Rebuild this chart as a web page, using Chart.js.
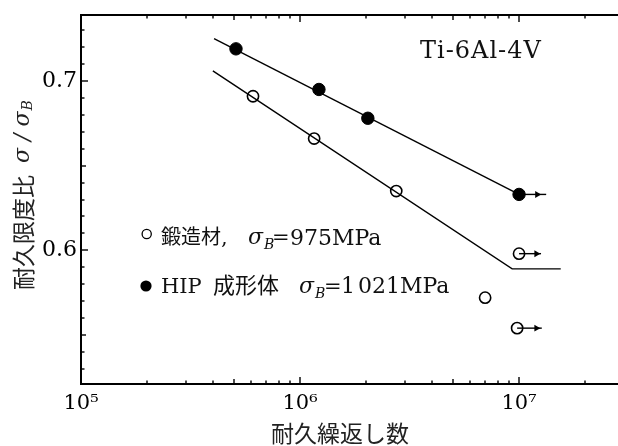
<!DOCTYPE html>
<html>
<head>
<meta charset="utf-8">
<script src="https://cdn.jsdelivr.net/npm/chart.js@4.4.0/dist/chart.umd.min.js"></script>
<style>
  html, body { margin: 0; padding: 0; background: #fff; overflow: hidden; }
  #wrap { width: 618px; height: 446px; position: relative; }
</style>
</head>
<body>
<div id="wrap"><canvas id="fatigue"></canvas></div>
<script>
// forged material (open circles)
const forgedN     = [6.1e5, 1.16e6, 2.75e6, 7.0e6, 1.0e7, 9.8e6];
const forgedRatio = [0.691, 0.666, 0.635, 0.572, 0.598, 0.554];
// HIP compact (filled circles)
const hipN     = [5.1e5, 1.22e6, 2.04e6, 1.0e7];
const hipRatio = [0.719, 0.695, 0.678, 0.633];
// fitted S-N lines
const forgedFitN     = [4.0e5, 9.3e6, 1.55e7];
const forgedFitRatio = [0.706, 0.589, 0.589];
const hipFitN     = [4.05e5, 1.0e7];
const hipFitRatio = [0.725, 0.633];
// run-outs (arrows)
const runoutN      = [1.0e7, 1.0e7, 9.8e6];
const runoutRatio  = [0.633, 0.598, 0.554];
const runoutHeadN  = [1.21e7, 1.2e7, 1.2e7];
const runoutEndN   = [1.33e7, 1.26e7, 1.27e7];
// axes
const yLabelValues = [0.6, 0.7];
const xLabelExps   = [5, 6, 7];
const xMantissas   = [1, 2, 3, 4, 5, 6, 7, 8, 9];

const SERIF = '"DejaVu Serif"';
const CJK = '"Noto Sans CJK JP"';
const sup = { 5: '\u2075', 6: '\u2076', 7: '\u2077' };

const pts = (xs, ys) => xs.map((v, i) => ({ x: v, y: ys[i] }));

const runoutSets = runoutN.map((n, i) => ({
  data: [
    { x: n, y: runoutRatio[i] },
    { x: runoutHeadN[i], y: runoutRatio[i] },
    { x: runoutEndN[i], y: runoutRatio[i] }
  ],
  showLine: true,
  borderColor: '#000',
  borderWidth: 1.4,
  pointStyle: 'triangle',
  rotation: 90,
  pointRadius: [0, 4, 0],
  backgroundColor: '#000',
  pointBorderWidth: 0
}));

function put(ctx, text, x, y, font) {
  ctx.font = font;
  ctx.fillText(text, x, y);
  return x + ctx.measureText(text).width;
}

const frame = {
  id: 'frame',
  beforeDatasetsDraw(chart) {
    const { ctx, chartArea: a, scales: { x, y } } = chart;
    ctx.save();
    ctx.fillStyle = '#000';
    // frame: top, left, bottom (open on the right)
    ctx.fillRect(a.left - 1, a.top - 1, a.right - a.left + 1, 2);
    ctx.fillRect(a.left - 1, a.top - 1, 2, a.bottom - a.top + 2);
    ctx.fillRect(a.left - 1, a.bottom - 1, a.right - a.left + 1, 2);
    // inward ticks
    xLabelExps.forEach(e => {
      xMantissas.forEach(m => {
        const v = m * Math.pow(10, e);
        if (v > x.max) return;
        const px = Math.round(x.getPixelForValue(v));
        const len = m === 1 ? 7 : (m === 5 ? 5 : 3.5);
        ctx.fillRect(px - 0.7, a.bottom - len, 1.4, len);
        ctx.fillRect(px - 0.7, a.top, 1.4, len);
      });
    });
    y.ticks.forEach(t => {
      const py = Math.round(y.getPixelForValue(t.value));
      const k = Math.round(t.value * 100);
      const len = k % 10 === 0 ? 7 : (k % 5 === 0 ? 5 : 3.5);
      ctx.fillRect(a.left, py - 0.7, len, 1.4);
    });
    ctx.restore();
  },
  afterDatasetsDraw(chart) {
    const { ctx } = chart;
    ctx.save();
    ctx.fillStyle = '#111';
    ctx.textBaseline = 'alphabetic';
    ctx.textAlign = 'left';

    // material label
    ctx.letterSpacing = '1px';
    put(ctx, 'Ti-6Al-4V', 420, 58, '24px ' + SERIF);
    ctx.letterSpacing = '0px';

    // legend, line 1
    ctx.strokeStyle = '#000';
    ctx.lineWidth = 1.3;
    ctx.beginPath(); ctx.arc(146.7, 234, 4.6, 0, Math.PI * 2); ctx.stroke();
    let cx = put(ctx, '鍛造材', 161, 244, '20px ' + CJK);
    put(ctx, ',', cx, 244, '21px ' + SERIF);
    cx = put(ctx, 'σ', 248, 244, 'italic 22px ' + SERIF);
    put(ctx, 'B', cx + 1, 249, 'italic 14px ' + SERIF);
    put(ctx, '=', 272, 244, '21px ' + SERIF);
    put(ctx, '975MPa', 290, 245, '22px ' + SERIF);

    // legend, line 2
    ctx.fillStyle = '#000';
    ctx.beginPath(); ctx.arc(146, 286, 5.6, 0, Math.PI * 2); ctx.fill();
    ctx.fillStyle = '#111';
    put(ctx, 'HIP', 161, 293, '21px ' + SERIF);
    put(ctx, '成形体', 213, 293, '22px ' + CJK);
    cx = put(ctx, 'σ', 299, 293, 'italic 22px ' + SERIF);
    put(ctx, 'B', cx + 1, 298, 'italic 14px ' + SERIF);
    put(ctx, '=', 324, 293, '21px ' + SERIF);
    put(ctx, '1', 341, 293, '22px ' + SERIF);
    put(ctx, '021MPa', 358, 293, '22px ' + SERIF);

    // x axis title
    ctx.textAlign = 'center';
    ctx.fillStyle = '#222';
    put(ctx, '耐久繰返し数', 340, 442, '23px ' + CJK);

    // y axis title (rotated)
    ctx.translate(23, 290);
    ctx.rotate(-Math.PI / 2);
    ctx.textAlign = 'left';
    ctx.textBaseline = 'middle';
    let tx = put(ctx, '耐久限度比', 0, 0, '23px ' + CJK);
    tx = put(ctx, 'σ', tx + 12, 0, 'italic 22px ' + SERIF);
    tx = put(ctx, ' / ', tx, 0, 'italic 22px ' + SERIF);
    tx = put(ctx, 'σ', tx, 0, 'italic 22px ' + SERIF);
    put(ctx, 'B', tx + 1, 5, 'italic 14px ' + SERIF);
    ctx.restore();
  }
};

new Chart(document.getElementById('fatigue'), {
  type: 'scatter',
  data: {
    datasets: [
      {
        data: pts(forgedFitN, forgedFitRatio),
        showLine: true, borderColor: '#000', borderWidth: 1.4, pointRadius: 0
      },
      {
        data: pts(hipFitN, hipFitRatio),
        showLine: true, borderColor: '#000', borderWidth: 1.4, pointRadius: 0
      },
      ...runoutSets,
      {
        data: pts(forgedN, forgedRatio),
        showLine: false, pointRadius: 5.6, pointBorderWidth: 1.6,
        pointBorderColor: '#000', pointBackgroundColor: '#fff'
      },
      {
        data: pts(hipN, hipRatio),
        showLine: false, pointRadius: 6.2, pointBorderWidth: 1,
        pointBorderColor: '#000', pointBackgroundColor: '#000'
      }
    ]
  },
  options: {
    responsive: true,
    maintainAspectRatio: false,
    animation: false,
    layout: {
      autoPadding: false,
      padding: { top: 15, right: 0, bottom: 0, left: 0 }
    },
    plugins: { legend: { display: false }, tooltip: { enabled: false } },
    scales: {
      x: {
        type: 'logarithmic',
        min: 1e5,
        max: 2.83e7,
        grid: { display: false, drawTicks: false },
        border: { display: false },
        afterBuildTicks(scale) {
          scale.ticks = xLabelExps.map(e => ({ value: Math.pow(10, e) }));
        },
        afterFit(scale) {
          scale.height = 62;
          scale.paddingLeft = 0;
          scale.paddingRight = 0;
        },
        ticks: {
          autoSkip: false,
          maxRotation: 0,
          padding: 7,
          color: '#000',
          font: { family: 'DejaVu Serif', size: 21 },
          callback(v) {
            return '10' + sup[Math.round(Math.log10(v))];
          }
        }
      },
      y: {
        type: 'linear',
        min: 0.521,
        max: 0.739,
        grid: { display: false, drawTicks: false },
        border: { display: false },
        afterFit(scale) {
          scale.width = 81;
          scale.paddingTop = 0;
          scale.paddingBottom = 0;
        },
        ticks: {
          stepSize: 0.01,
          includeBounds: false,
          autoSkip: false,
          padding: 4,
          color: '#000',
          font: { family: 'DejaVu Serif', size: 22 },
          callback(v) {
            const hit = yLabelValues.find(l => Math.abs(l - v) < 1e-6);
            return hit !== undefined ? hit.toFixed(1) : '';
          }
        }
      }
    }
  },
  plugins: [frame]
});
</script>
</body>
</html>
